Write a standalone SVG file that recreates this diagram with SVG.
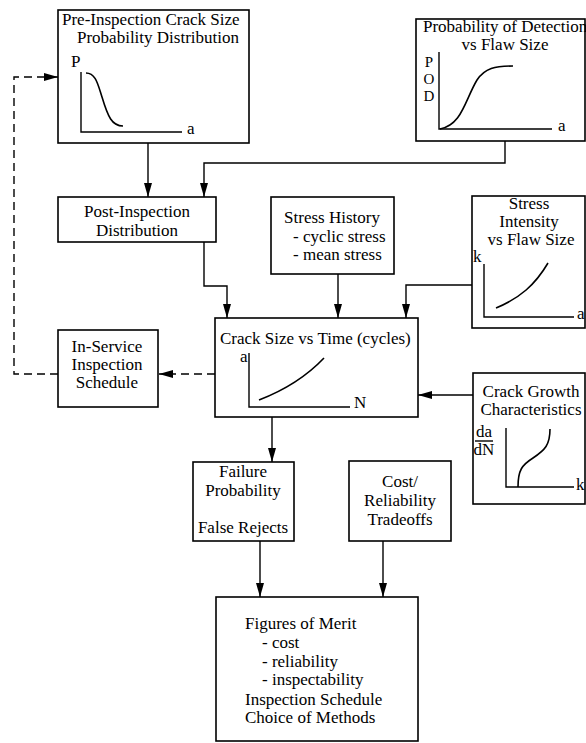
<svg xmlns="http://www.w3.org/2000/svg" width="586" height="743" viewBox="0 0 586 743">
<style>
  text { font-family: "Liberation Serif", "Times New Roman", serif; font-size: 17px; fill: #000; }
  .c { text-anchor: middle; }
  .box { fill: #fff; stroke: #000; stroke-width: 1.6; }
  .ln { fill: none; stroke: #000; stroke-width: 1.4; }
  .dash { fill: none; stroke: #000; stroke-width: 1.4; stroke-dasharray: 8 5; }
  .ax { fill: none; stroke: #000; stroke-width: 1.4; }
  .cv { fill: none; stroke: #000; stroke-width: 1.6; }
  .sm { font-size: 15px; }
</style>
<defs>
  <marker id="ah" markerUnits="userSpaceOnUse" markerWidth="15" markerHeight="9" refX="14" refY="4" orient="auto">
    <path d="M0,0 L14,4 L0,8 z" fill="#000"/>
  </marker>
</defs>
<rect width="586" height="743" fill="#fff"/>

<g id="connectors">
  <path class="ln" d="M148,143 V197" marker-end="url(#ah)"/>
  <path class="ln" d="M505,141 V163 H204 V197" marker-end="url(#ah)"/>
  <path class="ln" d="M204,242 V286 H227 V318" marker-end="url(#ah)"/>
  <path class="ln" d="M338,274 V318" marker-end="url(#ah)"/>
  <path class="ln" d="M472,285 H406 V318" marker-end="url(#ah)"/>
  <path class="ln" d="M473,395 H418" marker-end="url(#ah)"/>
  <path class="dash" d="M215,374 H159" marker-end="url(#ah)"/>
  <path class="dash" d="M58,374 H14 V77 H58" marker-end="url(#ah)"/>
  <path class="ln" d="M272,417 V462" marker-end="url(#ah)"/>
  <path class="ln" d="M260,541 V597" marker-end="url(#ah)"/>
  <path class="ln" d="M383,541 V597" marker-end="url(#ah)"/>
</g>

<g id="pre-inspection">
  <rect class="box" x="58" y="10" width="191" height="133"/>
  <text x="62" y="25">Pre-Inspection Crack Size</text>
  <text class="c" x="158" y="43">Probability Distribution</text>
  <text x="71" y="67">P</text>
  <path class="ax" d="M81,72 V132 H182"/>
  <text x="187" y="134">a</text>
  <path class="cv" d="M86,73 C96,73 98,85 102,97 C108,117 112,126 123,126"/>
</g>

<g id="pod">
  <rect class="box" x="416" y="19" width="169" height="122"/>
  <text x="423" y="32">Probability of Detection</text>
  <text class="c" x="505" y="50">vs Flaw Size</text>
  <text class="c sm" x="429" y="67">P</text>
  <text class="c sm" x="429" y="84">O</text>
  <text class="c sm" x="429" y="101">D</text>
  <path class="ax" d="M439,52 V129 H552"/>
  <text x="558" y="131">a</text>
  <path class="cv" d="M440,129 C462,125 465,100 477,80 C485,68 495,66 513,66"/>
</g>

<g id="post-inspection">
  <rect class="box" x="58" y="197" width="158" height="45"/>
  <text class="c" x="137" y="217">Post-Inspection</text>
  <text class="c" x="137" y="236">Distribution</text>
</g>

<g id="stress-history">
  <rect class="box" x="271" y="197" width="123" height="77"/>
  <text class="c" x="332" y="223">Stress History</text>
  <text x="293" y="242">- cyclic stress</text>
  <text x="293" y="260">- mean stress</text>
</g>

<g id="stress-intensity">
  <rect class="box" x="472" y="196" width="113" height="132"/>
  <text class="c" x="529" y="209">Stress</text>
  <text class="c" x="529" y="227">Intensity</text>
  <text class="c" x="531" y="245">vs Flaw Size</text>
  <text x="473" y="262">k</text>
  <path class="ax" d="M484,264 V317 H574"/>
  <text x="577" y="319">a</text>
  <path class="cv" d="M496,308 C520,298 535,285 548,263"/>
</g>

<g id="crack-size">
  <rect class="box" x="215" y="318" width="203" height="99"/>
  <text x="220" y="344">Crack Size vs Time (cycles)</text>
  <text x="240" y="362">a</text>
  <path class="ax" d="M249,353 V407 H350"/>
  <text x="354" y="408">N</text>
  <path class="cv" d="M259,400 C285,390 305,378 324,358"/>
</g>

<g id="in-service">
  <rect class="box" x="58" y="330" width="100" height="77"/>
  <text class="c" x="107" y="352">In-Service</text>
  <text class="c" x="107" y="370">Inspection</text>
  <text class="c" x="107" y="388">Schedule</text>
</g>

<g id="crack-growth">
  <rect class="box" x="473" y="373" width="112" height="131"/>
  <text class="c" x="531" y="397">Crack Growth</text>
  <text class="c" x="531" y="415">Characteristics</text>
  <text class="c" x="484" y="437">da</text>
  <path class="ln" d="M475,441 H493" stroke-width="1.2"/>
  <text class="c" x="484" y="455">dN</text>
  <path class="ax" d="M506,428 V487 H574"/>
  <text x="576" y="490">k</text>
  <path class="cv" d="M518,487 C518,470 522,465 533,458 C545,450 550,445 550,429"/>
</g>

<g id="failure-probability">
  <rect class="box" x="193" y="462" width="101" height="79"/>
  <text class="c" x="243" y="477">Failure</text>
  <text class="c" x="243" y="496">Probability</text>
  <text class="c" x="243" y="533">False Rejects</text>
</g>

<g id="cost-reliability">
  <rect class="box" x="349" y="461" width="102" height="80"/>
  <text class="c" x="400" y="487">Cost/</text>
  <text class="c" x="400" y="506">Reliability</text>
  <text class="c" x="400" y="525">Tradeoffs</text>
</g>

<g id="figures-of-merit">
  <rect class="box" x="216" y="597" width="202" height="144"/>
  <text x="245" y="629">Figures of Merit</text>
  <text x="262" y="648">- cost</text>
  <text x="262" y="667">- reliability</text>
  <text x="262" y="685">- inspectability</text>
  <text x="245" y="705">Inspection Schedule</text>
  <text x="245" y="723">Choice of Methods</text>
</g>
</svg>
